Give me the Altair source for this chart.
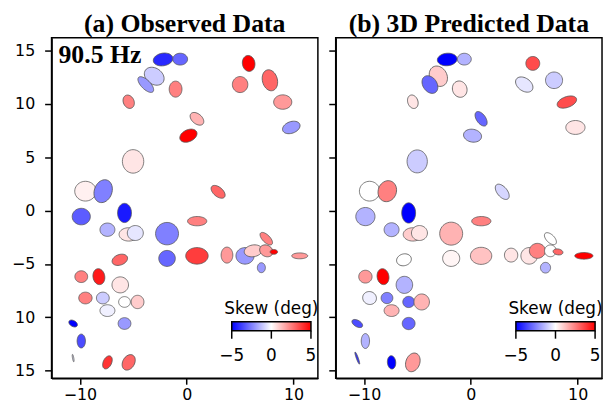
import math
import altair as alt
import pandas as pd

# ---- station positions (shared by both panels) ----
x_pos = [-2.21, -0.61, -3.04, -3.83, -1.04, -5.43, 0.96, 0.16, 5.80, 5.00,
         7.79, 8.99, 9.79, -5.02, -9.48, -7.82, 2.94, -9.87, -5.82, -7.42,
         -5.43, -4.81, -1.84, 0.98, -6.26, -1.84, 0.96, 3.77, 5.46, 6.23,
         7.45, 7.45, 8.16, 6.99, 10.58, -9.87, -8.22, -6.22, -9.48, -7.85,
         -5.82, -4.60, -7.42, -5.82, -10.63, -9.87, -10.63, -7.42, -5.43]
y_pos = [14.16, 14.19, 12.59, 11.81, 11.38, 10.20, 8.60, 7.02, 13.79, 11.81,
         12.21, 10.17, 7.79, 4.61, 1.82, 1.82, 1.76, -0.56, -0.22, -1.79,
         -2.23, -2.10, -2.16, -0.99, -4.61, -4.48, -4.24, -4.17, -4.24, -3.77,
         -3.77, -2.63, -3.87, -5.35, -4.24, -6.19, -6.19, -6.96, -8.19, -8.19,
         -8.56, -8.56, -9.37, -10.58, -10.58, -12.22, -13.82, -14.22, -14.22]

# ---- (a) observed ellipses ----
obs_major = [1.85, 1.39, 2.0, 1.9, 1.5, 1.3, 1.48, 1.7, 1.5, 1.5,
             2.0, 1.7, 1.7, 2.2, 2.0, 2.2, 1.55, 1.7, 1.8, 1.4,
             1.8, 1.5, 2.15, 1.8, 1.5, 1.55, 2.1, 1.5, 1.7, 1.7,
             1.3, 1.5, 0.7, 0.93, 1.5, 1.2, 1.5, 1.55, 1.25, 1.2,
             1.1, 1.25, 1.4, 1.2, 0.87, 1.3, 0.7, 1.3, 1.55]
obs_minor = [1.18, 1.11, 1.5, 0.85, 1.2, 1.0, 0.93, 1.1, 1.17, 1.45,
             1.4, 1.35, 1.08, 2.0, 1.85, 1.65, 0.87, 1.55, 1.3, 1.25,
             1.25, 1.4, 2.1, 0.87, 0.98, 1.5, 1.55, 1.1, 1.55, 1.1,
             1.05, 0.7, 0.45, 0.75, 0.55, 1.1, 1.1, 1.5, 1.1, 1.1,
             1.0, 1.2, 1.1, 1.1, 0.55, 0.78, 0.12, 0.78, 1.1]
obs_angle = [170, 0, 35, 45, 90, 65, 40, 155, 80, 90,
             75, 0, 160, 90, 0, 110, 40, 0, 90, 0,
             0, 0, 0, 0, 160, 0, 0, 90, 0, 170,
             30, 45, 0, 90, 0, 0, 80, 0, 0, 0,
             0, 90, 0, 0, 30, 90, 80, 115, 120]
obs_skew = [-4.2, -3.0, -1.0, -2.0, 2.5, 2.5, 1.5, 5.0, 5.0, 2.5,
            3.0, 2.0, -2.0, 0.5, 0.3, -2.5, 3.0, -3.2, -4.5, -1.5,
            0.5, -0.5, -2.5, 2.5, 3.0, -3.0, 3.8, 2.0, -2.0, 1.0,
            2.0, 2.5, 5.0, -2.0, 2.0, 2.5, 4.5, 0.5, 2.5, -1.0,
            0.0, 1.0, -0.3, -2.0, -5.0, -3.5, -0.5, 4.0, 3.0]

# ---- (b) 3D predicted ellipses ----
pred_major = [1.85, 1.3, 2.0, 1.8, 1.55, 1.3, 1.55, 1.7, 1.3, 1.8,
              1.6, 1.9, 1.8, 2.15, 1.9, 2.0, 1.7, 1.8, 1.9, 1.4,
              1.8, 1.5, 2.15, 1.8, 1.4, 1.6, 2.0, 1.3, 1.55, 1.5,
              1.1, 1.4, 0.93, 1.0, 1.7, 1.25, 1.5, 1.6, 1.3, 1.1,
              1.1, 1.5, 1.4, 1.2, 1.1, 1.4, 1.2, 1.25, 1.8]
pred_minor = [1.17, 1.1, 1.6, 1.3, 1.35, 0.95, 0.85, 1.2, 1.3, 1.2,
              1.55, 1.0, 1.3, 1.9, 1.85, 1.7, 0.93, 1.7, 1.3, 1.3,
              1.25, 1.4, 2.15, 0.87, 1.1, 1.5, 1.6, 1.25, 1.55, 1.4,
              1.1, 0.75, 0.55, 0.95, 0.62, 1.2, 1.1, 1.55, 1.2, 1.05,
              1.05, 1.45, 1.1, 1.15, 0.6, 0.78, 0.18, 0.78, 1.3]
pred_angle = [175, 0, 60, 55, 70, 70, 55, 10, 0, 35,
              0, 160, 0, 90, 0, 110, 50, 0, 90, 0,
              0, 0, 0, 0, 165, 0, 0, 90, 0, 0,
              0, 45, 10, 90, 0, 0, 80, 90, 20, 0,
              0, 90, 0, 0, 30, 90, 70, 85, 110]
pred_skew = [-5.0, -1.5, 1.0, -3.0, 0.5, 0.5, -3.0, -1.5, 3.5, -0.5,
             -1.0, 3.5, 0.5, -1.0, 0.0, 2.5, -0.8, -1.5, -5.0, -1.5,
             1.0, 0.5, 1.5, 2.5, 0.0, 0.2, 1.2, 0.5, 0.5, 2.5,
             0.0, 0.0, 3.0, -1.5, 5.0, 2.0, 5.0, -1.5, -0.3, -2.5,
             -3.0, 1.5, 1.5, -3.0, -3.5, -1.5, -4.0, -5.0, 2.0]

panel_titles = ["(a) Observed Data", "(b) 3D Predicted Data"]
freq_label = ["90.5 Hz"]
colorbar_title = "Skew (deg)"
x_ticks = [-10, 0, 10]
y_ticks = [-15, -10, -5, 0, 5, 10, 15]
skew_ticks = [-5, 0, 5]
skew_colors = ["#0000ff", "#ffffff", "#ff0000"]

X_DOMAIN = [-12.65, 12.28]
Y_DOMAIN = [-15.71, 16.2]
PANEL_W = 269
PANEL_H = 344
PPU = PANEL_W / (X_DOMAIN[1] - X_DOMAIN[0])

# colourbar placement inside each panel (pixels from the plot's top-left)
CB_X = 182
CB_LEN = 80
CB_TOP = 287
CB_THICK = 9


def ellipse_path(ratio, n=40):
    pts = []
    for i in range(n):
        t = 2 * math.pi * i / n
        pts.append(f"{math.cos(t):.4f},{ratio * math.sin(t):.4f}")
    return "M" + "L".join(pts) + "Z"


def make_frame(major, minor, angle, skew):
    rows = []
    for xi, yi, a, b, ang, s in zip(x_pos, y_pos, major, minor, angle, skew):
        rows.append({"x": xi, "y": yi, "skew": s,
                     "shape": ellipse_path(b / a),
                     "size": (a * PPU) ** 2,
                     "angle": ang})
    return pd.DataFrame(rows)


color_scale = alt.Scale(domain=[skew_ticks[0], 0, skew_ticks[-1]], range=skew_colors,
                        interpolate="rgb")


def colorbar():
    one = pd.DataFrame({"k": [0]})
    grad = alt.LinearGradient(
        gradient="linear", x1=0, x2=1, y1=0, y2=0,
        stops=[alt.GradientStop(color=c, offset=i / (len(skew_colors) - 1))
               for i, c in enumerate(skew_colors)])
    layers = [
        alt.Chart(one).mark_rect(fill=grad, stroke="black", strokeWidth=1.5).encode(
            x=alt.value(CB_X), x2=alt.value(CB_X + CB_LEN),
            y=alt.value(CB_TOP), y2=alt.value(CB_TOP + CB_THICK)),
        alt.Chart(pd.DataFrame({"t": [colorbar_title]})).mark_text(
            font="DejaVu Sans", fontSize=17, color="black", align="center",
            baseline="alphabetic").encode(
            text="t:N", x=alt.value(CB_X + CB_LEN / 2), y=alt.value(CB_TOP - 8)),
    ]
    for t in skew_ticks:
        px = CB_X + (t - skew_ticks[0]) / (skew_ticks[-1] - skew_ticks[0]) * CB_LEN
        layers.append(
            alt.Chart(one).mark_rule(color="black", strokeWidth=1.5).encode(
                x=alt.value(px), y=alt.value(CB_TOP + CB_THICK),
                y2=alt.value(CB_TOP + CB_THICK + 8)))
        layers.append(
            alt.Chart(pd.DataFrame({"t": [t]})).mark_text(
                font="DejaVu Sans", fontSize=17, color="black", align="center",
                baseline="alphabetic").encode(
                text=alt.Text("t:Q", format="d"), x=alt.value(px),
                y=alt.value(CB_TOP + CB_THICK + 31)))
    return layers


def panel(df, show_labels):
    yaxis_kwargs = dict(values=y_ticks, title=None, grid=False, labels=show_labels,
                        labelPadding=10, tickSize=7)
    if show_labels:
        yaxis_kwargs["labelExpr"] = ("datum.value <= -10 ? replace(replace(datum.label, '\u2212', ''), '-', '')"
                                     " : datum.label")
    return alt.Chart(df).mark_point(filled=True, opacity=1, stroke="#555555",
                                    strokeWidth=0.75).encode(
        x=alt.X("x:Q", scale=alt.Scale(domain=X_DOMAIN, nice=False, zero=False),
                axis=alt.Axis(values=x_ticks, title=None, grid=False, labelPadding=2,
                              tickSize=6)),
        y=alt.Y("y:Q", scale=alt.Scale(domain=Y_DOMAIN, nice=False, zero=False),
                axis=alt.Axis(**yaxis_kwargs)),
        shape=alt.Shape("shape:N", scale=None),
        size=alt.Size("size:Q", scale=None),
        angle=alt.Angle("angle:Q", scale=None),
        fill=alt.Fill("skew:Q", scale=color_scale, legend=None),
    )


def build(df, title, show_labels, extra=()):
    layers = [panel(df, show_labels)] + colorbar() + list(extra)
    return alt.layer(*layers).properties(
        width=PANEL_W, height=PANEL_H,
        title=alt.TitleParams(title, font="Liberation Serif", fontSize=26, fontWeight="bold",
                              color="black", anchor="middle", offset=1),
    )


obs_df = make_frame(obs_major, obs_minor, obs_angle, obs_skew)
pred_df = make_frame(pred_major, pred_minor, pred_angle, pred_skew)

label = alt.Chart(pd.DataFrame({"label": freq_label})).mark_text(
    font="Liberation Serif", fontSize=26, fontWeight="bold", color="black",
    align="left", baseline="alphabetic").encode(
    text="label:N", x=alt.value(7), y=alt.value(26))

left = build(obs_df, panel_titles[0], True, extra=[label])
right = build(pred_df, panel_titles[1], False)

chart = alt.hconcat(left, right, spacing=7).resolve_scale(fill="independent").properties(
    padding={"left": 2, "top": 0, "right": 0, "bottom": 0},
    background="white",
).configure_view(stroke="black", strokeWidth=1.5).configure_axis(
    domainColor="black", domainWidth=1.5, tickColor="black", tickWidth=1.5,
    labelFont="DejaVu Sans", labelFontSize=16, labelColor="black",
)

chart.save("out.html", embed_options={"renderer": "svg", "actions": False})
